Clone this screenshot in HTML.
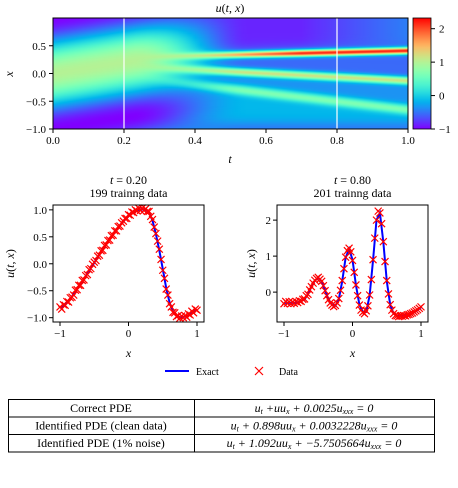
<!DOCTYPE html>
<html><head><meta charset="utf-8">
<style>
html,body{margin:0;padding:0;background:#fff;}
#wrap{position:relative;width:458px;height:488px;overflow:hidden;font-family:"Liberation Serif",serif;}
svg{position:absolute;left:0;top:0;}
</style></head>
<body>
<div id="wrap">
<svg id="svg" width="458" height="488" font-family="Liberation Serif, serif" font-size="11"><defs id="defs"></defs></svg>
</div>
<script>
var tSlices = [0.2, 0.8];
var heatTicksX = [0, 0.2, 0.4, 0.6, 0.8, 1.0];
var heatTicksY = [0.5, 0.0, -0.5, -1.0];
var cbarTicks = [2, 1, 0, -1];
var exactX = [-1,-0.95,-0.9,-0.85,-0.8,-0.75,-0.7,-0.65,-0.6,-0.55,-0.5,-0.45,-0.4,-0.35,-0.3,-0.25,-0.2,-0.15,-0.1,-0.05,0,0.05,0.1,0.15,0.2,0.25,0.3,0.35,0.4,0.45,0.5,0.55,0.6,0.65,0.7,0.75,0.8,0.85,0.9,0.95,1];
var exactLeft = [-0.82,-0.78,-0.72,-0.65,-0.56,-0.47,-0.38,-0.28,-0.18,-0.08,0.02,0.12,0.22,0.32,0.41,0.5,0.59,0.67,0.75,0.82,0.89,0.94,0.98,1.0,1.01,1.0,0.95,0.8,0.55,0.25,-0.1,-0.45,-0.72,-0.88,-0.96,-0.99,-0.99,-0.97,-0.93,-0.89,-0.85];
var exactRight = [-0.3,-0.3,-0.3,-0.3,-0.28,-0.25,-0.2,-0.05,0.15,0.32,0.4,0.3,0.05,-0.2,-0.35,-0.38,-0.2,0.3,0.95,1.2,0.9,0.2,-0.35,-0.55,-0.55,-0.1,0.9,2.0,2.2,1.4,0.3,-0.35,-0.6,-0.65,-0.66,-0.66,-0.64,-0.6,-0.56,-0.5,-0.42];
var dataLeft = [-0.80,-0.84,-0.76,-0.77,-0.70,-0.71,-0.63,-0.62,-0.58,-0.49,-0.48,-0.40,-0.40,-0.31,-0.30,-0.22,-0.20,-0.11,-0.09,-0.01,0.03,0.06,0.14,0.16,0.24,0.25,0.34,0.35,0.43,0.44,0.52,0.53,0.61,0.61,0.69,0.70,0.76,0.79,0.84,0.84,0.91,0.90,0.96,0.95,1.0,0.98,1.03,0.99,1.03,0.99,1.02,0.97,0.97,0.88,0.82,0.68,0.56,0.42,0.27,0.08,-0.12,-0.27,-0.47,-0.58,-0.74,-0.80,-0.90,-0.91,-0.98,-0.96,-1.01,-0.97,-1.0,-0.96,-0.99,-0.93,-0.95,-0.88,-0.91,-0.84,-0.86];
var dataRight = [-0.32,-0.26,-0.31,-0.27,-0.32,-0.28,-0.31,-0.26,-0.29,-0.24,-0.26,-0.2,-0.19,-0.1,-0.06,0.06,0.15,0.25,0.33,0.38,0.41,0.36,0.3,0.18,0.04,-0.1,-0.21,-0.3,-0.36,-0.4,-0.37,-0.3,-0.18,0.05,0.32,0.65,0.97,1.15,1.22,1.12,0.88,0.55,0.2,-0.1,-0.36,-0.5,-0.56,-0.6,-0.52,-0.38,-0.08,0.35,0.9,1.5,2.0,2.25,2.2,1.9,1.4,0.85,0.32,-0.05,-0.35,-0.5,-0.6,-0.65,-0.66,-0.68,-0.66,-0.67,-0.65,-0.66,-0.63,-0.62,-0.6,-0.58,-0.55,-0.52,-0.49,-0.45,-0.41];
var leftTicksY = [1.0, 0.5, 0.0, -0.5, -1.0];
var rightTicksY = [2, 1, 0];
var xTicks = [-1, 0, 1];
var tableLabels = ["Correct PDE","Identified PDE (clean data)","Identified PDE (1% noise)"];
var tableCoefUx = [""," 0.898"," 1.092"];
var tableCoefUxxx = ["0.0025","0.0032228","\u22125.7505664"];

var svg=document.getElementById('svg');
var defs=document.getElementById('defs');
var NS='http://www.w3.org/2000/svg';
function el(tag,attrs,parent){
  var e=document.createElementNS(NS,tag);
  for(var k in attrs){ if(attrs.hasOwnProperty(k)) e.setAttribute(k,attrs[k]); }
  (parent||svg).appendChild(e); return e;
}
function rich(x,y,segs,anchor,extra,parent){
  var a={x:x,y:y,'text-anchor':anchor||'middle'};
  if(extra){ for(var k in extra){ if(extra.hasOwnProperty(k)) a[k]=extra[k]; } }
  var t=el('text',a,parent);
  for(var i=0;i<segs.length;i++){
    var s=el('tspan',segs[i][1]||{},t);
    s.appendChild(document.createTextNode(segs[i][0]));
  }
  return t;
}
function txt(x,y,s,anchor,extra,parent){ return rich(x,y,[[s,{}]],anchor,extra,parent); }
function fmtM(v){ return (v<0?'\u2212':'')+Math.abs(v); }
function fmt1(v){ return (v<0?'\u2212':'')+Math.abs(v).toFixed(1); }
var IT={'font-style':'italic'};
var uTX=[['u',IT],['(',{}],['t',IT],[', ',{}],['x',IT],[')',{}]];

var VMIN=-1, VMAX=2.32;
function clamp01(a){ return Math.max(0,Math.min(1,a)); }
function rainbow(v){
  var x=clamp01((v-VMIN)/(VMAX-VMIN));
  var r=Math.round(255*clamp01(Math.abs(2*x-0.5)));
  var g=Math.round(255*clamp01(Math.sin(Math.PI*x)));
  var b=Math.round(255*clamp01(Math.cos(Math.PI/2*x)));
  return 'rgb('+r+','+g+','+b+')';
}
function gauss(x,c,w){ var z=(x-c)/w; return Math.exp(-z*z); }
function sig(z){ return 1/(1+Math.exp(-z)); }
function field(t,x){
  var early=Math.cos(Math.PI*(x-t));
  var s=clamp01((t-0.22)/0.33); s=s*s*(3-2*s);
  var c1=0.26+0.15*t, c2=0.2-0.33*t, c3=0.1-0.75*t;
  var top=-0.85+0.4*clamp01((t-0.7)/0.3);
  var bg=-0.15-0.2*sig((x-c3)/0.05)-0.2*sig((x-c2)/0.05)+(top+0.55)*sig((x-c1-0.12)/0.05)-0.3*gauss(x,-1,0.15);
  var late=bg+2.7*Math.min(1,(t+0.1)/0.8)*gauss(x,c1,0.06)+1.6*gauss(x,c2,0.07)+0.9*gauss(x,c3,0.09);
  return (1-s)*early+s*late;
}
try{
  var hg=el('g',{});
  
  
  var rows=111;
  for(var j=0;j<rows;j++){
    var xv=1-(j+0.5)/rows*2;
    var gr=el('linearGradient',{id:'hr'+j,x1:0,x2:1,y1:0,y2:0},defs);
    for(var k=0;k<=60;k++){ el('stop',{offset:k/60,'stop-color':rainbow(field(k/60,xv))},gr); }
    el('rect',{x:53,y:18+j,width:355,height:1.3,fill:'url(#hr'+j+')'},hg);
  }
  var cg=el('linearGradient',{id:'cbg',x1:0,x2:0,y1:0,y2:1},defs);
  for(var k2=0;k2<=30;k2++){ el('stop',{offset:k2/30,'stop-color':rainbow(VMAX-k2/30*(VMAX-VMIN))},cg); }
  var cb=el('rect',{x:413,y:18,width:18,height:111,fill:'url(#cbg)'});
  
  
}catch(e){}

function hx(t){ return 53+t*355; }
function hy(x){ return 129-(x+1)/2*111; }
function cy(v){ return 18+(VMAX-v)/(VMAX-VMIN)*111; }
var i, e, l;
for(i=0;i<tSlices.length;i++){
  l=el('line',{x1:hx(tSlices[i]),x2:hx(tSlices[i]),y1:18,y2:129,stroke:'#fff','stroke-width':1.2});
  
  
}
el('rect',{x:53,y:18,width:355,height:111,fill:'none',stroke:'#000','stroke-width':1});
el('rect',{x:413,y:18,width:18,height:111,fill:'none',stroke:'#000','stroke-width':0.8});
for(i=0;i<heatTicksX.length;i++){
  var tv=heatTicksX[i];
  el('line',{x1:hx(tv),x2:hx(tv),y1:129,y2:133,stroke:'#000'});
  e=txt(hx(tv),144,tv.toFixed(1));
  
  
}
for(i=0;i<heatTicksY.length;i++){
  var yv=heatTicksY[i];
  el('line',{x1:49,x2:53,y1:hy(yv),y2:hy(yv),stroke:'#000'});
  e=txt(46,hy(yv)+4,fmt1(yv),'end');
  
  
}
for(i=0;i<cbarTicks.length;i++){
  var cv=cbarTicks[i];
  el('line',{x1:431,x2:435,y1:cy(cv),y2:cy(cv),stroke:'#000'});
  e=txt(439,cy(cv)+4,fmtM(cv),'start');
  
  
}
e=rich(230,12,uTX,'middle',{'font-size':12});


e=txt(230,163,'t','middle',{'font-style':'italic','font-size':12});


e=txt(10,77,'x','middle',{'font-style':'italic','font-size':12,transform:'rotate(-90 10 74)'});



function panel(px,pw,ptop,pbot,ymin,ymax,exact,data,yt,fmt,ylx,tval,count,name){
  function sx(x){ return px+7+(x+1)/2*(pw-14); }
  function sy(v){ return pbot-(v-ymin)/(ymax-ymin)*(pbot-ptop); }
  var g=el('g',{});
  
  
  var d='', q;
  for(q=0;q<exactX.length;q++){ d+=(q?'L':'M')+sx(exactX[q]).toFixed(1)+' '+sy(exact[q]).toFixed(1); }
  var p=el('path',{d:d,fill:'none',stroke:'#0000ff','stroke-width':2},g);
  
  
  for(q=0;q<data.length;q++){
    var X=sx(-1+q*0.025), Y=sy(data[q]), r=3.5;
    var m=el('path',{d:'M'+(X-r)+' '+(Y-r)+'L'+(X+r)+' '+(Y+r)+'M'+(X-r)+' '+(Y+r)+'L'+(X+r)+' '+(Y-r),stroke:'#ff0000','stroke-width':1.2},g);
    
    
  }
  el('rect',{x:px,y:ptop,width:pw,height:pbot-ptop,fill:'none',stroke:'#000','stroke-width':1},g);
  var t;
  for(q=0;q<xTicks.length;q++){
    el('line',{x1:sx(xTicks[q]),x2:sx(xTicks[q]),y1:pbot,y2:pbot+4,stroke:'#000'},g);
    t=txt(sx(xTicks[q]),pbot+15,fmtM(xTicks[q]),'middle',{},g);
    
    
  }
  for(q=0;q<yt.length;q++){
    el('line',{x1:px-4,x2:px,y1:sy(yt[q]),y2:sy(yt[q]),stroke:'#000'},g);
    t=txt(px-6,sy(yt[q])+4,fmt(yt[q]),'end',{},g);
    
    
  }
  t=txt(px+pw/2,pbot+35,'x','middle',{'font-style':'italic','font-size':12},g);
  
  
  var yl=px-ylx, ym=(ptop+pbot)/2;
  t=rich(yl,ym+4,uTX,'middle',{'font-size':12,transform:'rotate(-90 '+yl+' '+ym+')'},g);
  
  
  t=rich(px+pw/2,ptop-21,[['t',IT],[' = '+tval,{}]],'middle',{'font-size':12},g);
  
  
  t=txt(px+pw/2,ptop-8,count+' trainng data','middle',{'font-size':12},g);
  
  
}
panel(53,151,205,322,-1.08,1.09,exactLeft,dataLeft,leftTicksY,fmt1,43,'0.20','199','left-panel');
panel(277,151,205,322,-0.83,2.42,exactRight,dataRight,rightTicksY,fmtM,26,'0.80','201','right-panel');

var lg=el('g',{});


el('line',{x1:165,x2:189,y1:371,y2:371,stroke:'#0000ff','stroke-width':2},lg);
e=txt(196,375,'Exact','start',{'font-size':10},lg);


el('path',{d:'M255 367L263 375M255 375L263 367',stroke:'#ff0000','stroke-width':1.2},lg);
e=txt(279,375,'Data','start',{'font-size':10},lg);



var tg=el('g',{});


var rowY=[399,417,434,452];
el('rect',{x:8.5,y:399.5,width:426,height:52.5,fill:'none',stroke:'#000','stroke-width':1},tg);
el('line',{x1:194.5,x2:194.5,y1:399,y2:452,stroke:'#000'},tg);
el('line',{x1:8,x2:434,y1:417,y2:417,stroke:'#000'},tg);
el('line',{x1:8,x2:434,y1:434.5,y2:434.5,stroke:'#000'},tg);
for(i=0;i<tableLabels.length;i++){
  var ry=(rowY[i]+rowY[i+1])/2+4;
  e=txt(101,ry,tableLabels[i],'middle',{'font-size':12},tg);
  
  
  var SUB={'font-size':8,dy:2}, UP={dy:-2};
  e=rich(314,ry,[['u',{}],['t',SUB],[' +'+tableCoefUx[i]+'uu',UP],['x',SUB],[' + '+tableCoefUxxx[i]+'u',UP],['xxx',SUB],[' = 0',UP]],'middle',{'font-size':12,'font-style':'italic'},tg);
  
  
}
</script>
</body></html>
